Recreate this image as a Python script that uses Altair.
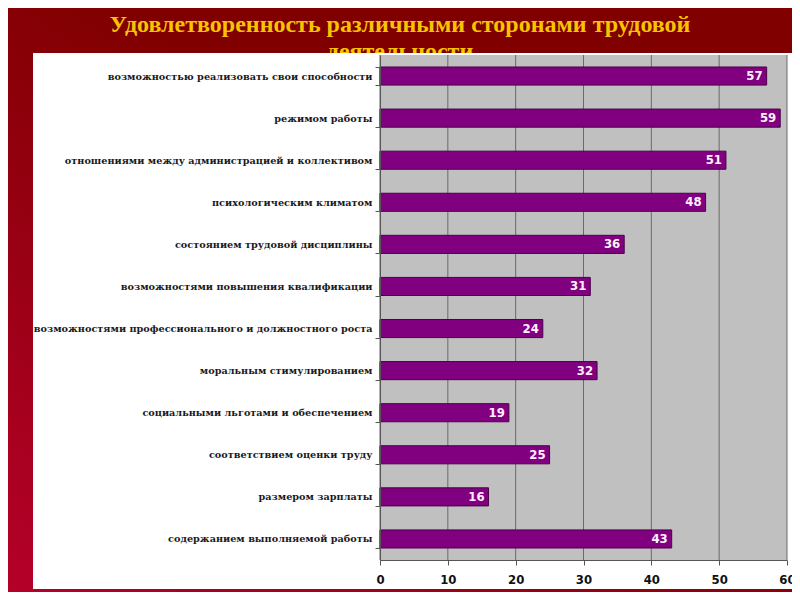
import altair as alt
import pandas as pd

categories = [
    "возможностью реализовать свои способности",
    "режимом работы",
    "отношениями между администрацией и коллективом",
    "психологическим климатом",
    "состоянием трудовой дисциплины",
    "возможностями повышения квалификации",
    "возможностями профессионального и должностного роста",
    "моральным стимулированием",
    "социальными льготами и обеспечением",
    "соответствием оценки труду",
    "размером зарплаты",
    "содержанием выполняемой работы",
]
values = [57, 59, 51, 48, 36, 31, 24, 32, 19, 25, 16, 43]
x_ticks = [0, 10, 20, 30, 40, 50, 60]
title_lines = ["Удовлетворенность различными сторонами трудовой", "деятельности"]

W, H = 407, 505
PL, PT = 372, 47

df = pd.DataFrame({"cat": categories, "val": values})
ticks_df = pd.DataFrame({"v": x_ticks})
title_df = pd.DataFrame({"t": title_lines, "row": [0, 1]})

xscale = alt.Scale(domain=[0, 60], nice=False)
ysort = categories

one = alt.Data(values=[{}])

bg = alt.Chart(one).mark_rect(
    fill=alt.Gradient(
        gradient="linear",
        x1=0, y1=1, x2=0.55, y2=0.35,
        stops=[alt.GradientStop(offset=0, color="#B5002A"),
               alt.GradientStop(offset=1, color="#800000")],
    )
).encode(
    x=alt.value(-PL), x2=alt.value(784 - PL),
    y=alt.value(-PT), y2=alt.value(584 - PT),
)

title1 = alt.Chart(title_df.iloc[[0]]).mark_text(
    font="Liberation Serif", fontWeight="bold", fontSize=24,
    color="#F8C300", align="center", baseline="middle",
).encode(text="t:N", x=alt.value(392 - PL), y=alt.value(17 - PT))

title2 = alt.Chart(title_df.iloc[[1]]).mark_text(
    font="Liberation Serif", fontWeight="bold", fontSize=24,
    color="#F8C300", align="center", baseline="middle",
).encode(text="t:N", x=alt.value(392 - PL), y=alt.value(44 - PT))

white = alt.Chart(one).mark_rect(fill="white").encode(
    x=alt.value(25 - PL), x2=alt.value(784 - PL + 10),
    y=alt.value(-2), y2=alt.value(581 - PT),
)

gray = alt.Chart(one).mark_rect(fill="#C0C0C0").encode(
    x=alt.value(0), x2=alt.value(W), y=alt.value(0), y2=alt.value(H),
)

grid = alt.Chart(ticks_df).mark_rule(color="#6a6a6a", strokeWidth=1).encode(
    x=alt.X("v:Q", scale=xscale, title=None),
    y=alt.value(0), y2=alt.value(H),
)

xaxis = alt.Axis(
    values=x_ticks, grid=False, title=None,
    labelFont="DejaVu Sans Condensed", labelFontWeight="bold", labelFontSize=13,
    labelColor="#111", domainColor="#555", tickColor="#555", tickSize=5,
    labelPadding=8, zindex=1, labelFlush=False,
)
yaxis = alt.Axis(
    title=None, grid=False,
    labelFont="DejaVu Serif", labelFontWeight="bold", labelFontSize=9.7,
    labelColor="#1a1a1a", domainColor="#555", tickColor="#555", tickSize=5,
    tickBand="extent", labelPadding=3, zindex=1, labelLimit=400,
)

bars = alt.Chart(df).mark_bar(
    color="#800080", stroke="#4a0048", strokeWidth=1, cornerRadius=0
).encode(
    x=alt.X("val:Q", scale=xscale, axis=xaxis, title=None),
    y=alt.Y("cat:N", sort=ysort, axis=yaxis, title=None,
            scale=alt.Scale(paddingInner=0.57, paddingOuter=0.285)),
)

labels = alt.Chart(df).mark_text(
    font="DejaVu Sans Condensed", fontWeight="bold", fontSize=13,
    color="#FFF0FF", align="right", baseline="middle", dx=-4,
).encode(
    x=alt.X("val:Q", scale=xscale),
    y=alt.Y("cat:N", sort=ysort),
    text="val:Q",
)

chart = alt.layer(bg, title1, title2, white, gray, grid, bars, labels).properties(
    width=W, height=H,
    padding={"left": PL, "top": PT, "right": 784 - PL - W, "bottom": 584 - PT - H},
    autosize="none",
    background="#800000",
).configure_view(stroke=None)

chart.save("out.html", embed_options={"renderer": "svg", "actions": False})
